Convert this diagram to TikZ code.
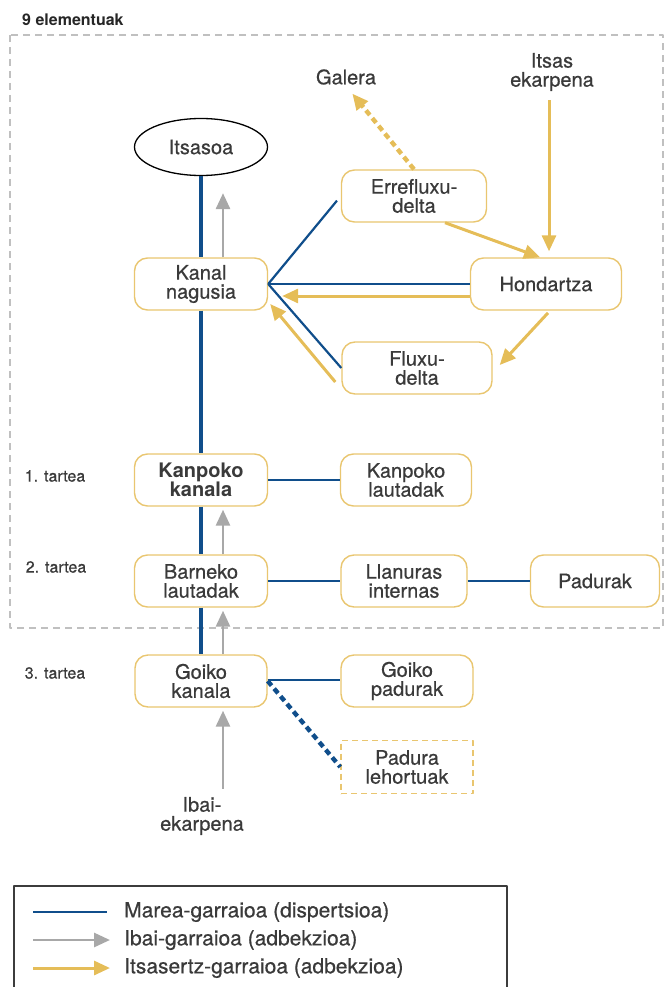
\documentclass[tikz,border=0pt]{standalone}
\usepackage{fontspec}
\setmainfont{TeX Gyre Heros}[FakeBold=0.6]
\newfontfamily\boldface{TeX Gyre Heros Bold}
\usetikzlibrary{arrows.meta,shapes.geometric}
\definecolor{marea}{RGB}{16,78,139}
\definecolor{ibai}{RGB}{168,168,168}
\definecolor{itsas}{RGB}{229,189,88}
\definecolor{boxgold}{RGB}{233,198,112}
\definecolor{txt}{RGB}{58,58,58}
\definecolor{framegrey}{RGB}{192,192,192}
\definecolor{legframe}{RGB}{60,60,60}
\newcommand{\nodefont}{\fontsize{20}{19}\selectfont}
\newcommand{\legfont}{\fontsize{21}{21}\selectfont}
\newcommand{\labfont}{\fontsize{16}{16}\selectfont}
\tikzset{
  unit/.style={draw=boxgold, line width=1.4pt, rounded corners=13pt, fill=white,
    text=txt, font=\nodefont, align=center, minimum height=52pt, inner sep=2pt},
  plain/.style={text=txt, font=\nodefont, align=center, inner sep=1pt},
  tide/.style={draw=marea, line width=3.2pt},
  tidethin/.style={draw=marea, line width=2.2pt},
  river/.style={color=ibai, line width=2.8pt, -{Triangle[length=16pt,width=14pt]}},
  coast/.style={color=itsas, line width=3pt, -{Triangle[length=16pt,width=14pt]}}
}
\begin{document}
\begin{tikzpicture}[x=1pt,y=-1pt,line join=round]
  \useasboundingbox (0,0) rectangle (667,987);
  \node[anchor=west, font=\labfont\boldface, text=black!85, inner sep=0pt] (title) at (22,20) {9 elementuak};
  \draw[framegrey, line width=2pt, dash pattern=on 7pt off 5pt] (10,35) rectangle (663,628);
  \node[ellipse, draw=black, line width=1.3pt, minimum width=133pt, minimum height=57pt,
    text=txt, font=\nodefont, inner sep=1pt] (itsasoa) at (201,147) {Itsasoa};
  \node[plain] (galera) at (346,77) {Galera};
  \node[plain] (itsasekar) at (552,72) {Itsas\\ekarpena};
  \node[unit, minimum width=133pt] (kanal) at (201,284) {Kanal\\nagusia};
  \node[unit, minimum width=145pt] (erreflux) at (414,196) {Errefluxu-\\delta};
  \node[unit, minimum width=151pt] (hondartza) at (546,284) {Hondartza};
  \node[unit, minimum width=150pt] (fluxu) at (417,368) {Fluxu-\\delta};
  \node[unit, minimum width=133pt, font=\nodefont\boldface] (kanpokokanala) at (201,480) {Kanpoko\\kanala};
  \node[unit, minimum width=131pt] (kanpokolaut) at (406,480) {Kanpoko\\lautadak};
  \node[unit, minimum width=133pt] (barneko) at (201,581) {Barneko\\lautadak};
  \node[unit, minimum width=126pt] (llanuras) at (404,581) {Llanuras\\internas};
  \node[unit, minimum width=129pt] (padurak) at (595,581) {Padurak};
  \node[unit, minimum width=132pt] (goikokanala) at (201,681) {Goiko\\kanala};
  \node[unit, minimum width=132pt] (goikopad) at (407,681) {Goiko\\padurak};
  \node[unit, sharp corners, dash pattern=on 6pt off 4pt, minimum width=132pt, minimum height=53pt] (lehortuak) at (407,767) {Padura\\lehortuak};
  \node[plain] (ibaiekar) at (202,816) {Ibai-\\ekarpena};
  \node[font=\labfont, text=txt] (tartea1) at (55,476) {1. tartea};
  \node[font=\labfont, text=txt] (tartea2) at (56,567) {2. tartea};
  \node[font=\labfont, text=txt] (tartea3) at (55,673) {3. tartea};
  \draw[tide] (itsasoa.south) -- (kanal.north);
  \draw[tide] (kanal.south) -- (kanpokokanala.north);
  \draw[tide] (kanpokokanala.south) -- (barneko.north);
  \draw[tide] (barneko.south) -- (goikokanala.north);
  \draw[tidethin, shorten >=6pt] (kanal.east) -- (erreflux.west);
  \draw[tidethin] (kanal.east) -- (hondartza.west);
  \draw[tidethin] (kanal.east) -- (fluxu.west);
  \draw[tide, line width=2.8pt] (kanpokokanala.east) -- (kanpokolaut.west);
  \draw[tide, line width=2.8pt] (barneko.east) -- (llanuras.west);
  \draw[tide, line width=2.8pt] (llanuras.east) -- (padurak.west);
  \draw[tide, line width=2.8pt] ([yshift=1pt]goikokanala.east) -- ([yshift=1pt]goikopad.west);
  \draw[tide, line width=4.4pt, dash pattern=on 6pt off 4pt] (goikokanala.east) -- (lehortuak.west);
  \draw[river] ([xshift=22pt]kanal.north) -- ([xshift=22pt,yshift=-17pt]itsasoa.south);
  \draw[river] ([xshift=22pt]barneko.north) -- ([xshift=22pt,yshift=-3pt]kanpokokanala.south);
  \draw[river] ([xshift=22pt]goikokanala.north) -- ([xshift=22pt,yshift=-3pt]barneko.south);
  \draw[river] ([xshift=21pt,yshift=7pt]ibaiekar.north) -- ([xshift=22pt,yshift=-3pt]goikokanala.south);
  \draw[coast] ([yshift=-12pt]hondartza.west) -- ([xshift=14pt,yshift=-12pt]kanal.east);
  \draw[coast] ([xshift=-6pt,yshift=-14pt]fluxu.west) -- ([xshift=2pt,yshift=-20pt]kanal.east);
  \draw[coast] ([xshift=31pt]erreflux.south) -- ([xshift=-6pt]hondartza.north);
  \draw[coast, shorten <=8pt, shorten >=6pt] ([xshift=-3pt]itsasekar.south) -- ([xshift=3pt]hondartza.north);
  \draw[coast, shorten <=3pt] ([xshift=4pt]hondartza.south) -- ([xshift=7pt,yshift=3pt]fluxu.east);
  \draw[coast, line width=4.4pt, dash pattern=on 6pt off 4pt, shorten >=10pt] (erreflux.north) -- (galera.south);
  \draw[legframe, line width=1.4pt] (14,886) rectangle (507,988);
  \node[anchor=west, font=\legfont, text=txt, inner sep=0pt] (leg1) at (124,912) {Marea-garraioa (dispertsioa)};
  \node[anchor=west, font=\legfont, text=txt, inner sep=0pt] (leg2) at (124,940) {Ibai-garraioa (adbekzioa)};
  \node[anchor=west, font=\legfont, text=txt, inner sep=0pt] (leg3) at (124,968) {Itsasertz-garraioa (adbekzioa)};
  \draw[tide, line width=2.6pt] ([xshift=-91pt]leg1.west) -- ([xshift=-17pt]leg1.west);
  \draw[river] ([xshift=-91pt]leg2.west) -- ([xshift=-14pt]leg2.west);
  \draw[coast] ([xshift=-91pt]leg3.west) -- ([xshift=-14pt]leg3.west);
\end{tikzpicture}
\end{document}
